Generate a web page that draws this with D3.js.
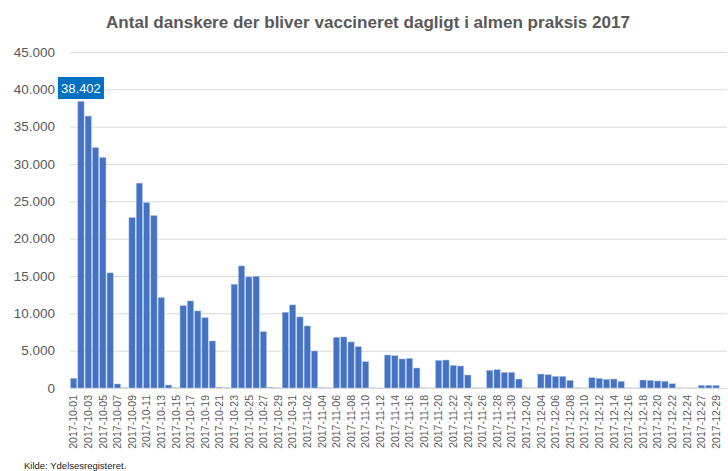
<!DOCTYPE html>
<html>
<meta charset="utf-8">
<style>
    body { margin: 0; background: #fff; }
    text { font-family: "Liberation Sans", Arial, sans-serif; }
</style>
<body>
<script src="https://cdn.jsdelivr.net/npm/d3@7"></script>
<div id="chart"></div>
<script>
// dates (one per working-data day, 12-25 and 12-31 not in the data)
var startDate = new Date(2017, 9, 1);
var dates = [];
for (var i = 0; i < 85; i++) {
    dates.push(d3.timeFormat("%Y-%m-%d")(d3.timeDay.offset(startDate, i)));
}
dates = dates.concat(["2017-12-26", "2017-12-27", "2017-12-28", "2017-12-29", "2017-12-30"]);

var vaccinated = [
    1300, 38402, 36420, 32210, 30870, 15420, 540,
    30, 22830, 27440, 24840, 23100, 12110, 400,
    30, 11030, 11660, 10320, 9430, 6300, 100,
    30, 13900, 16350, 14880, 14970, 7550, 100,
    20, 10150, 11130, 9520, 8310, 4960, 40,
    20, 6800, 6840, 6170, 5540, 3530, 20,
    10, 4420, 4330, 3890, 3980, 2680, 20,
    10, 3710, 3750, 3040, 2950, 1740, 20,
    10, 2370, 2460, 2100, 2100, 1200, 20,
    10, 1870, 1780, 1560, 1560, 1030, 20,
    10, 1380, 1300, 1160, 1200, 900, 20,
    10, 1070, 1030, 940, 900, 580, 20,
    10, 10, 360, 360, 360, 0
];

var yTicks = [0, 5000, 10000, 15000, 20000, 25000, 30000, 35000, 40000, 45000];
var maxLabel = "38.402";

var width = 728, height = 471;
var margin = {top: 52, right: 1, bottom: 83, left: 70};

var dk = d3.formatLocale({decimal: ",", thousands: ".", grouping: [3], currency: ["", ""]});
var fmt = dk.format(",");

var svg = d3.select("#chart").append("svg")
    .attr("width", width)
    .attr("height", height);

var x = d3.scaleBand()
    .domain(dates)
    .range([margin.left, width - margin.right])
    .paddingInner(0.14)
    .paddingOuter(0.07);

var y = d3.scaleLinear()
    .domain([0, 45000])
    .range([height - margin.bottom, margin.top]);

svg.append("text")
    .attr("x", 368)
    .attr("y", 28)
    .attr("text-anchor", "middle")
    .attr("font-size", 17)
    .attr("font-weight", "bold")
    .attr("fill", "#595959")
    .attr("textLength", 524)
    .attr("lengthAdjust", "spacingAndGlyphs")
    .text("Antal danskere der bliver vaccineret dagligt i almen praksis 2017");

// grid + y labels
var yAxis = svg.append("g")
    .attr("transform", "translate(" + margin.left + ",0)")
    .call(d3.axisLeft(y).tickValues(yTicks).tickFormat(fmt)
        .tickSize(-(width - margin.left - margin.right)).tickPadding(15));
yAxis.select(".domain").remove();
yAxis.selectAll(".tick line").attr("stroke", "#d9d9d9").attr("stroke-width", 1);
yAxis.selectAll(".tick text")
    .attr("font-size", 13.5)
    .attr("fill", "#595959")
    .attr("font-family", "Liberation Sans, Arial, sans-serif");

// bars
svg.append("g").selectAll("rect")
    .data(vaccinated)
    .enter().append("rect")
    .attr("x", function(d, i) { return x(dates[i]); })
    .attr("width", x.bandwidth())
    .attr("y", function(d) { return y(d); })
    .attr("height", function(d) { return y(0) - y(d); })
    .attr("fill", "#4472c4")
    .attr("stroke", "#b4c7e7")
    .attr("stroke-width", 0.5);

// x labels, every second category
var xAxis = svg.append("g")
    .attr("transform", "translate(0," + y(0) + ")")
    .call(d3.axisBottom(x)
        .tickValues(dates.filter(function(d, i) { return i % 2 === 0 && i < 89; }))
        .tickSize(0).tickPadding(0));
xAxis.select(".domain").attr("stroke", "#d9d9d9");
xAxis.selectAll(".tick text")
    .attr("font-size", 10.5)
    .attr("fill", "#595959")
    .attr("font-family", "Liberation Sans, Arial, sans-serif")
    .attr("transform", "rotate(-90)")
    .attr("text-anchor", "end")
    .attr("x", -7)
    .attr("y", 0)
    .attr("dy", "0.35em");

// data label for max
var maxIdx = vaccinated.indexOf(d3.max(vaccinated));
var cx = x(dates[maxIdx]) + x.bandwidth() / 2;
svg.append("rect")
    .attr("x", cx - 23)
    .attr("y", 77)
    .attr("width", 46)
    .attr("height", 22)
    .attr("fill", "#0070c0");
svg.append("text")
    .attr("x", cx)
    .attr("y", 93)
    .attr("text-anchor", "middle")
    .attr("font-size", 13)
    .attr("fill", "#fff")
    .text(maxLabel);

svg.append("text")
    .attr("x", 24)
    .attr("y", 469)
    .attr("font-size", 9.5)
    .attr("fill", "#222")
    .text("Kilde: Ydelsesregisteret.");
</script>
</body>
</html>
